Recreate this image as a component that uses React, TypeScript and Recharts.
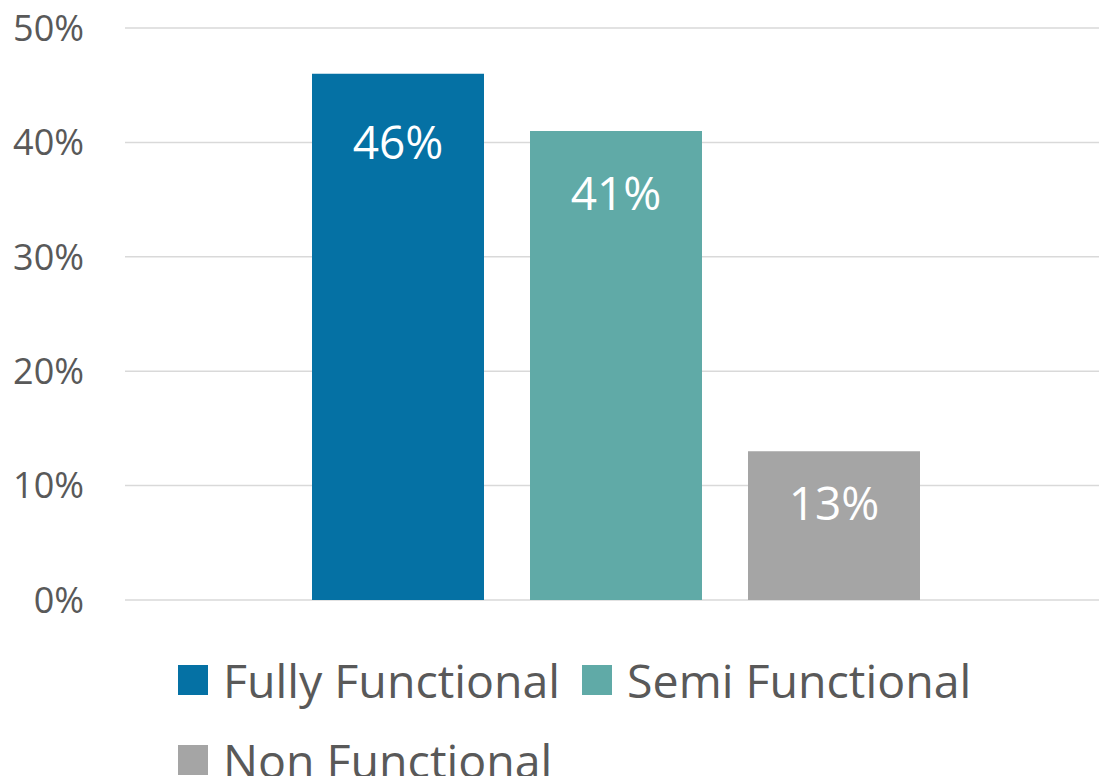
import React from 'react';
import { BarChart, Bar, XAxis, YAxis, CartesianGrid, Legend, LabelList } from 'recharts';

// chart data
const categories = ['Functionality'];
const seriesKeys = ['full', 'semi', 'non'];
const seriesNames = ['Fully Functional', 'Semi Functional', 'Non Functional'];
const seriesValues = [46, 41, 13];
const yTicks = [0, 10, 20, 30, 40, 50];

const COLORS = ['#0571A4', '#60AAA7', '#A5A5A5'];
const LABEL_OFFSETS = [53, 46, 36];
const FONT = '"Open Sans", "Noto Sans", sans-serif';
const TEXT = '#595959';

const data = categories.map((name) => {
  const row: Record<string, string | number> = { name };
  seriesKeys.forEach((k, i) => {
    row[k] = seriesValues[i];
  });
  return row;
});

const ChartLegend = () => (
  <div style={{ display: 'flex', flexWrap: 'wrap', width: 840, fontFamily: FONT }}>
    {seriesNames.map((n, i) => (
      <div key={n} style={{ display: 'flex', alignItems: 'center', height: 80, marginRight: 22 }}>
        <div style={{ width: 30, height: 30, backgroundColor: COLORS[i], marginRight: 15 }} />
        <span style={{ fontSize: 46.5, lineHeight: 1, color: TEXT }}>{n}</span>
      </div>
    ))}
  </div>
);

export default function App() {
  return (
    <div style={{ position: 'absolute', left: 0, top: 0, width: 1099, height: 776, overflow: 'hidden', background: '#fff' }}>
      <BarChart
        width={1107}
        height={776}
        data={data}
        margin={{ top: 28, right: 0, bottom: 176, left: 0 }}
        barGap={46}
      >
        <CartesianGrid vertical={false} stroke="#D9D9D9" strokeWidth={1.5} />
        <XAxis dataKey="name" hide />
        <YAxis
          width={125}
          domain={[0, 50]}
          ticks={yTicks}
          axisLine={false}
          tickLine={false}
          tickMargin={35}
          tickFormatter={(v: number) => `${v}%`}
          tick={{ fontSize: 36, fill: TEXT, fontFamily: FONT }}
        />
        <Legend
          layout="horizontal"
          verticalAlign="middle"
          align="center"
          wrapperStyle={{ top: 640, left: 178, width: 840 }}
          content={() => <ChartLegend />}
        />
        {seriesKeys.map((k, i) => (
          <Bar key={k} dataKey={k} name={seriesNames[i]} fill={COLORS[i]} barSize={172} isAnimationActive={false}>
            <LabelList
              dataKey={k}
              position="insideTop"
              offset={LABEL_OFFSETS[i]}
              formatter={(v: number) => `${v}%`}
              style={{ fill: '#fff', fontSize: 46, fontFamily: FONT }}
            />
          </Bar>
        ))}
      </BarChart>
    </div>
  );
}
